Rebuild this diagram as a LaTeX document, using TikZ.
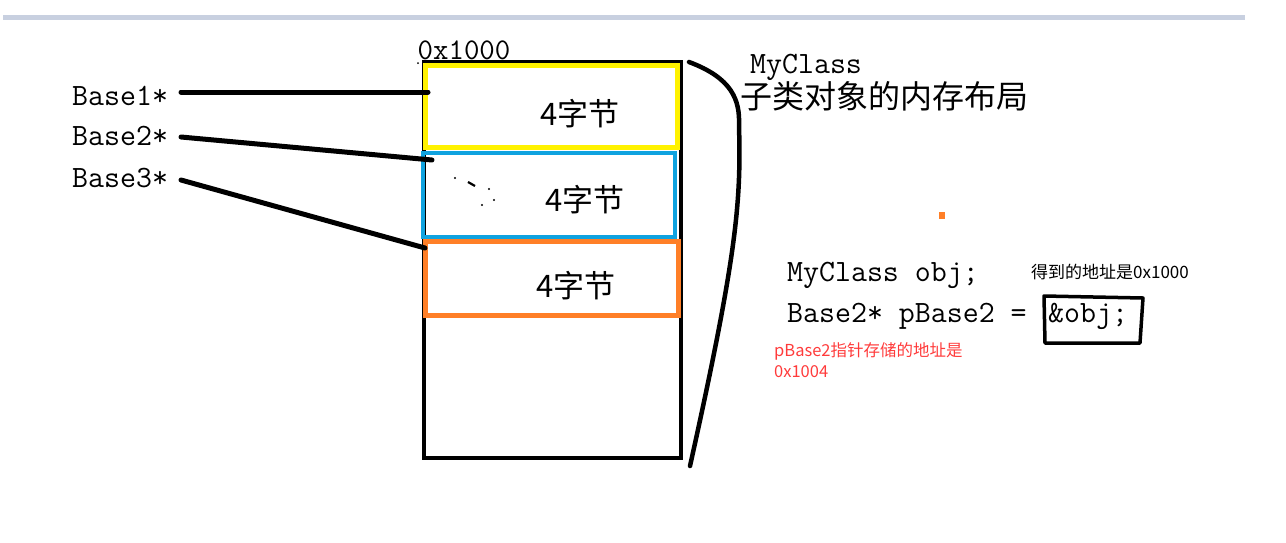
\documentclass[tikz,border=0pt]{standalone}
\usepackage{fontspec}
\newfontfamily\cjk{Noto Sans CJK SC}
\definecolor{barc}{HTML}{C8D0E0}
\definecolor{ylw}{HTML}{FFF200}
\definecolor{blu}{HTML}{0FA3E0}
\definecolor{org}{HTML}{FF7F27}
\definecolor{redt}{HTML}{FF3B3B}
\tikzset{
  mono/.style={font=\fontsize{31}{31}\selectfont\ttfamily, inner sep=0pt, anchor=west},
  cjkbig/.style={font=\fontsize{31}{31}\selectfont\cjk, inner sep=0pt},
  small/.style={font=\fontsize{16.5}{16.5}\selectfont\cjk, inner sep=0pt, anchor=west},
  ptr/.style={line width=5pt, line cap=round},
}
\begin{document}
\begin{tikzpicture}[x=1pt,y=-1pt]
\useasboundingbox (0,0) rectangle (1286,542);
% top bar
\coordinate (bl) at (3,17);
\coordinate (br) at (1245,17);
\draw[barc, line width=5pt] (bl) -- (br);
% memory block
\draw[line width=4pt] (424,62) rectangle (681,458);
\draw[ylw, line width=5pt] (425,65) rectangle (677,147);
\draw[blu, line width=4pt] (423,153) rectangle (675,237);
\draw[org, line width=5pt] (425,241) rectangle (678,315);
\node[cjkbig] (s1) at (580,114) {4字节};
\node[cjkbig] (s2) at (585,200) {4字节};
\node[cjkbig] (s3) at (576,286) {4字节};
\node[font=\fontsize{30}{30}\selectfont\ttfamily, inner sep=0pt] (addr) at (464,50) {0x1000};
% dots in blue box
\fill (455,178) circle (1.2pt);
\draw[line width=2.2pt] (468,182) -- (475,186);
\fill (489,189) circle (1.2pt);
\fill (494,200) circle (1.2pt);
\fill (482,205) circle (1.2pt);
\fill (418,63) circle (1pt);
% pointers
\node[mono] (b1) at (72,96) {Base1*};
\node[mono] (b2) at (72,136) {Base2*};
\node[mono] (b3) at (72,178) {Base3*};
\coordinate (q1) at (181,92);
\coordinate (q2) at (181,137);
\coordinate (q3) at (181,180);
\coordinate (p1) at (428,92);
\coordinate (p2) at (432,160);
\coordinate (p3) at (425,248);
\draw[ptr] (q1) -- (p1);
\draw[ptr] (q2) -- (p2);
\draw[ptr] (q3) -- (p3);
% bracket
\coordinate (c0) at (689,62);
\coordinate (c1) at (739,125);
\coordinate (c2) at (690,466);
\draw[line width=4.5pt, line cap=round] (c0) .. controls (732,78) and (740,100) .. (c1) .. controls (741,200) and (738,250) .. (c2);
% labels
\node[mono] (mc) at (750,67) {MyClass};
\node[cjkbig, anchor=west, font=\fontsize{32}{32}\selectfont\cjk] (lay) at (740,96) {子类对象的内存布局};
\fill[org] (939,212) rectangle (945,219);
\node[mono] (l1) at (787,275) {MyClass obj;};
\node[mono] (l2) at (787,316) {Base2* pBase2 =};
\node[mono] (l3) at (1048,316) {\&obj;};
\node[small, font=\fontsize{17}{17}\selectfont\cjk] (n1) at (1031,272) {得到的地址是0x1000};
\node[small, text=redt] (r1) at (774,351) {pBase2指针存储的地址是};
\node[small, text=redt] (r2) at (774,372) {0x1004};
% hand-drawn box
\coordinate (h1) at (1044,296);
\coordinate (h2) at (1143,298);
\coordinate (h3) at (1140,343);
\coordinate (h4) at (1045,343);
\draw[line width=3.5pt, line join=round] (h1) -- (h2) -- (h3) -- (h4) -- cycle;
\end{tikzpicture}
\end{document}
